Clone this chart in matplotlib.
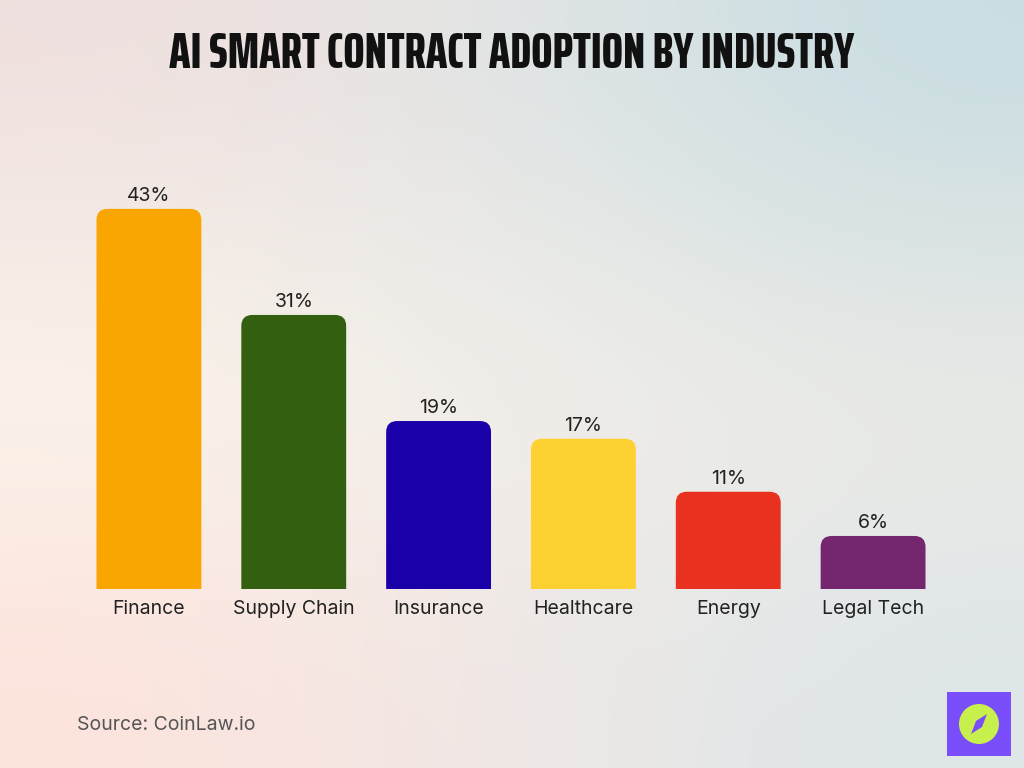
import matplotlib.pyplot as plt
from matplotlib.patches import Rectangle, Circle, Polygon, PathPatch
from matplotlib.path import Path
import numpy as np

# Data
industries = ['Finance', 'Supply Chain', 'Insurance', 'Healthcare', 'Energy',
              'Legal Tech']
adoption = [43, 31, 19, 17, 11, 6]
bar_colors = ['#f9a603', '#335f10', '#1a00a8', '#fdd131', '#e8321f',
              '#74276e']
title = 'AI Smart Contract Adoption by Industry'

fig = plt.figure(figsize=(10.24, 7.68), dpi=100)

# Background gradient
bg = np.array([
    [[0xf0, 0xe0, 0xde], [0xe2, 0xe6, 0xe6], [0xc9, 0xdd, 0xe2]],
    [[0xfc, 0xf8, 0xee], [0xf2, 0xf0, 0xea], [0xee, 0xeb, 0xe6]],
    [[0xfd, 0xe3, 0xdc], [0xef, 0xe8, 0xe6], [0xdd, 0xe6, 0xe8]],
]) / 255.0
bgax = fig.add_axes([0, 0, 1, 1], zorder=-1)
bgax.imshow(bg, aspect='auto', interpolation='bicubic',
            extent=[0, 1, 0, 1])
bgax.set_axis_off()

# Main axes
ax = fig.add_axes([76.5/1024, 179/768, 869/1024, 442/768])
ax.set_facecolor('none')
x = np.arange(len(industries))
width = 0.724
bars = ax.bar(x, adoption, width=width, color='none')

# round the top corners of each bar (~11 px radius)
rx = 11/145
ry = 11/8.84
for b, c, v in zip(bars, bar_colors, adoption):
    x0, x1 = b.get_x(), b.get_x() + b.get_width()
    verts = [(x0, 0), (x0, v - ry), (x0, v), (x0 + rx, v),
             (x1 - rx, v), (x1, v), (x1, v - ry), (x1, 0), (x0, 0)]
    codes = [Path.MOVETO, Path.LINETO, Path.CURVE3, Path.CURVE3,
             Path.LINETO, Path.CURVE3, Path.CURVE3, Path.LINETO,
             Path.CLOSEPOLY]
    ax.add_patch(PathPatch(Path(verts, codes), fc=c, ec='none'))
    ax.text(b.get_x() + width/2, v + 0.45, '%d%%' % v, ha='center',
            va='bottom', fontsize=14, color='#222222', family='Inter')

ax.set_xlim(-0.5, len(industries) - 0.5)
ax.set_ylim(0, 50)
ax.set_xticks(x)
ax.set_xticklabels(industries, fontsize=14, color='#222222',
                   family='Inter')
ax.tick_params(axis='x', length=0, pad=8)
ax.set_yticks([])
for s in ax.spines.values():
    s.set_visible(False)

# Title
fig.text(0.5, 1 - 55/768, title.upper(),
         ha='center', va='center', fontsize=36.5, fontweight=800,
         color='#111111', family=['Saira ExtraCondensed', 'DejaVu Sans'])

# Source
fig.text(77/1024, 1 - 725/768, 'Source: CoinLaw.io', ha='left',
         va='center', fontsize=14, color='#555555', family='Inter')

# Logo
fig.patches.append(Rectangle((947/1024, 1 - 756/768), 64/1024, 64/768,
                             fc='#7a4dfb', ec='none',
                             transform=fig.transFigure))
fig.patches.append(Circle((979, 768 - 724), 20, fc='#c8f04c', ec='none',
                          transform=None))
fig.patches.append(Polygon([(979 + 8, 768 - 724 + 10), (979 + 3, 768 - 724 - 3),
                            (979 - 8, 768 - 724 - 10), (979 - 3, 768 - 724 + 3)],
                           fc='#7a4dfb', ec='none', transform=None))

plt.savefig('out.png', dpi=100)
